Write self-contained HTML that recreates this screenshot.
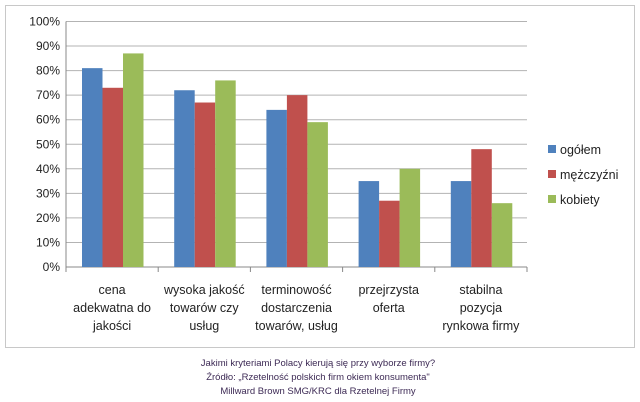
<!DOCTYPE html>
<html><head><meta charset="utf-8"><style>
body{margin:0;background:#fff;font-family:"Liberation Sans",sans-serif;}
svg{display:block}
</style></head><body>
<svg width="640" height="402" xmlns="http://www.w3.org/2000/svg">
<rect x="5.5" y="5.5" width="629" height="342" fill="#fff" stroke="#c8c8c8"/>
<g id="grid"></g><g id="bars"></g><g id="axes"></g><g id="legend"></g>
<g font-size="9.5" fill="#3d2a55" text-anchor="middle">
<text x="318" y="366">Jakimi kryteriami Polacy kierują się przy wyborze firmy?</text>
<text x="318" y="380">Źródło: „Rzetelność polskich firm okiem konsumenta"</text>
<text x="318" y="394">Millward Brown SMG/KRC dla Rzetelnej Firmy</text>
</g>
</svg>
<script>
const categories=[["cena","adekwatna do","jakości"],["wysoka jakość","towarów czy","usług"],["terminowość","dostarczenia","towarów, usług"],["przejrzysta","oferta"],["stabilna","pozycja","rynkowa firmy"]];
const seriesNames=["ogółem","mężczyźni","kobiety"];
const ogolem=[81,72,64,35,35];
const mezczyzni=[73,67,70,27,48];
const kobiety=[87,76,59,40,26];
const ticks=[0,10,20,30,40,50,60,70,80,90,100];
const colors=["#4f81bd","#c0504d","#9bbb59"];
const series=[ogolem,mezczyzni,kobiety];
const NS="http://www.w3.org/2000/svg";
const x0=66,x1=527,y0=267,yTop=21.5;
const y=v=>y0-(v/100)*(y0-yTop);
const cw=(x1-x0)/categories.length;
function mk(t,a,p){const e=document.createElementNS(NS,t);for(const k in a)e.setAttribute(k,a[k]);document.getElementById(p).appendChild(e);return e;}
ticks.forEach(t=>{
 const l=mk("line",{x1:x0,x2:x1,y1:y(t),y2:y(t),stroke:t?"#b3b3b3":"#888","stroke-width":1},"grid");
 
 
 const tx=mk("text",{x:x0-6,y:y(t)+4,"font-size":"12","text-anchor":"end",fill:"#222"},"axes");
 tx.textContent=t+"%";
 
 
});
mk("line",{x1:x0,x2:x0,y1:yTop,y2:y0,stroke:"#888"},"axes");
const bw=20.5,off=16;
categories.forEach((c,i)=>{
 series.forEach((s,j)=>{
  const r=mk("rect",{x:x0+i*cw+off+j*bw,y:y(s[i]),width:bw,height:y0-y(s[i]),fill:colors[j]},"bars");
  
  
 });
 mk("line",{x1:x0+(i+1)*cw,x2:x0+(i+1)*cw,y1:y0,y2:y0+5,stroke:"#888"},"axes");
 c.forEach((ln,k)=>{
  const t=mk("text",{x:x0+i*cw+cw/2,y:y0+27+k*18,"font-size":"12.5","text-anchor":"middle",fill:"#222"},"axes");
  t.textContent=ln;
  
  
 });
});
mk("line",{x1:x0,x2:x0,y1:y0,y2:y0+5,stroke:"#888"},"axes");
seriesNames.forEach((n,j)=>{
 const r=mk("rect",{x:548,y:145+j*25,width:8,height:8,fill:colors[j]},"legend");
 
 
 const t=mk("text",{x:560,y:154+j*25,"font-size":"12.5",fill:"#222"},"legend");
 t.textContent=n;
 
 
});
</script>
</body></html>
